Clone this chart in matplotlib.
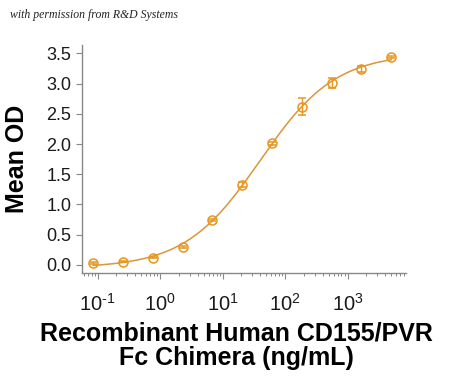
import matplotlib
matplotlib.use("Agg")
import matplotlib.pyplot as plt
from matplotlib.ticker import LogLocator, NullFormatter
import numpy as np

plt.rcParams['font.family'] = ['Liberation Sans', 'DejaVu Sans']
plt.rcParams['mathtext.fontset'] = 'custom'
plt.rcParams['mathtext.rm'] = 'Liberation Sans'

# data (3-fold dilution series)
conc = [0.085, 0.254, 0.76, 2.29, 6.86, 20.6, 61.7, 185, 556, 1667, 5000]
od = [0.03, 0.05, 0.12, 0.30, 0.74, 1.33, 2.01, 2.62, 3.01, 3.25, 3.44]
od_err = [0.01, 0.01, 0.01, 0.02, 0.02, 0.04, 0.02, 0.14, 0.08, 0.05, 0.02]

x_ticks = [0.1, 1, 10, 100, 1000]
x_ticklabels = [r"$10^{\text{-1}}$", r"$10^{0}$", r"$10^{1}$", r"$10^{2}$", r"$10^{3}$"]
y_ticks = [0.0, 0.5, 1.0, 1.5, 2.0, 2.5, 3.0, 3.5]

mark_color = "#E8961E"
line_color = "#D9963A"


# 4PL fit: grid search on EC50 / Hill, bottom & top by linear least squares
def fit_4pl(x, y):
    lx = np.log10(x)
    best = None
    for lc in np.linspace(0, 3, 301):
        for h in np.linspace(0.5, 2.0, 151):
            s = 1.0 / (1.0 + 10 ** ((lc - lx) * h))
            A = np.vstack([1 - s, s]).T
            coef, res, _, _ = np.linalg.lstsq(A, y, rcond=None)
            err = np.sum((A @ coef - y) ** 2)
            if best is None or err < best[0]:
                best = (err, lc, h, coef)
    return best[1:]


x = np.array(conc)
y = np.array(od)
lc, h, (bot, top) = fit_4pl(x, y)
xs = np.logspace(np.log10(x[0]), np.log10(x[-1]), 300)
ys = bot + (top - bot) / (1.0 + 10 ** ((lc - np.log10(xs)) * h))

fig = plt.figure(figsize=(4.5, 3.8), dpi=100)
ax = fig.add_axes([0.1815, 0.2808, 0.7205, 0.6008])

ax.plot(xs, ys, color=line_color, lw=1.1, zorder=2)
ax.errorbar(x, y, yerr=od_err, fmt='o', ms=6.5, mfc='none', mec=mark_color,
            mew=1.1, ecolor=mark_color, elinewidth=1.0, capsize=3, capthick=1.0, zorder=3)

ax.set_xscale('log')
ax.set_xlim(0.0556, 8600)
ax.set_ylim(-0.14, 3.64)
ax.set_xticks(x_ticks)
ax.set_xticklabels(x_ticklabels)
ax.xaxis.set_minor_locator(LogLocator(base=10, subs=np.arange(2, 10)))
ax.xaxis.set_minor_formatter(NullFormatter())
ax.set_yticks(y_ticks)
ax.set_yticklabels(["%.1f" % v for v in y_ticks])

for s in ['top', 'right']:
    ax.spines[s].set_visible(False)
for s in ['left', 'bottom']:
    ax.spines[s].set_color('#888888')
    ax.spines[s].set_linewidth(1.0)

ax.tick_params(axis='both', which='major', direction='out', length=4, width=0.8,
               color='#888888', labelsize=13, labelcolor='#1a1a1a')
ax.tick_params(axis='x', which='major', pad=10, labelsize=14.5)
ax.tick_params(axis='x', which='minor', direction='out', length=2.5, width=0.7, color='#888888')

ax.set_ylabel("Mean OD", fontsize=18, fontweight='bold', labelpad=12)
ax.set_xlabel("Recombinant Human CD155/PVR\nFc Chimera (ng/mL)", fontsize=18,
              fontweight='bold', linespacing=1.0)
ax.xaxis.set_label_coords(0.476, -0.212)
ax.xaxis.label.set_verticalalignment('top')

fig.text(0.022, 0.952, "with permission from R&D Systems", fontsize=8.5,
         family='Liberation Serif', style='italic', color='#222222')

fig.savefig("out.png", dpi=100)
